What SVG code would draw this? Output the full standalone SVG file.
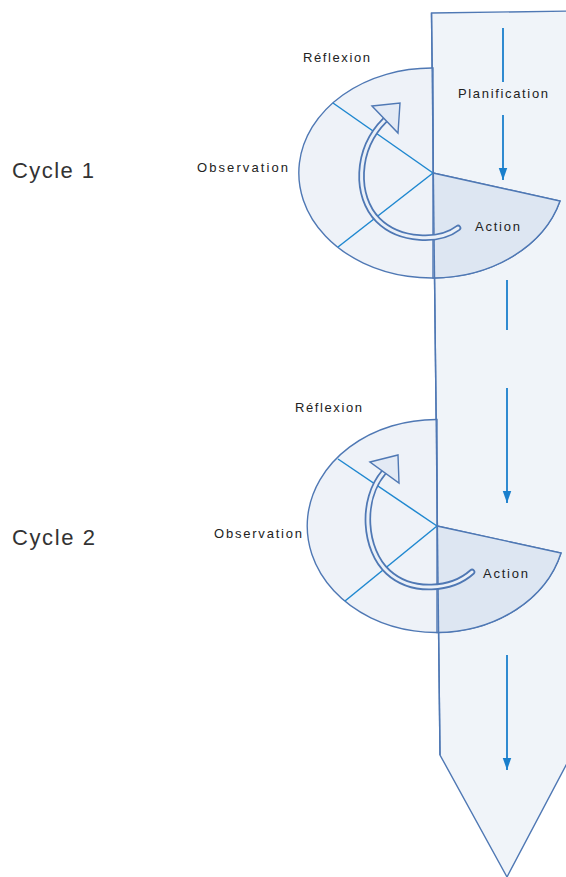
<svg xmlns="http://www.w3.org/2000/svg" width="566" height="877" viewBox="0 0 566 877">
<style>
.lbl{font-family:"Liberation Sans",Arial,sans-serif;font-size:13px;fill:#222}
.cyc{font-family:"Liberation Sans",Arial,sans-serif;font-size:22px;fill:#333}
.edge{fill:none;stroke:#4f78b4;stroke-width:1.4}
.pie{fill:#eef2f8;stroke:#4f78b4;stroke-width:1.4}
.act{fill:#dde6f2;stroke:#4f78b4;stroke-width:1.4}
.div{stroke:#1f88d0;stroke-width:1.5;fill:none}
.flow{stroke:#1a7fcc;stroke-width:1.8;fill:none}
.bandO{fill:none;stroke:#4f78b4;stroke-width:6.5;stroke-linecap:round}
.bandI{fill:none;stroke:#eaf0f8;stroke-width:3;stroke-linecap:round}
.head{fill:#e3eaf5;stroke:#4f78b4;stroke-width:1.4;stroke-linejoin:miter}
</style>
<defs>
<marker id="ah" markerUnits="userSpaceOnUse" markerWidth="12" markerHeight="18" refX="17" refY="6" orient="auto" viewBox="0 0 17 12">
<path d="M0,0 L17,6 L0,12 Z" fill="#1a7fcc"/>
</marker>
</defs>
<g id="main-arrow">
<path d="M431.5,13 L574,11 L574,750 L507,877 L440,755 Z" fill="#f0f4f9" stroke="#4f78b4" stroke-width="1.4"/>
</g>
<g id="cycle1">
<path class="pie" d="M433,68 A133,105 0 1 0 560,201 L433,173 Z"/>
<path class="act" d="M433,173 L560,201 A133,105 0 0 1 433,278 Z"/>
<line class="div" x1="433" y1="173" x2="333" y2="103"/>
<line class="div" x1="433" y1="173" x2="338" y2="247"/>
</g>
<g id="cycle2">
<path class="pie" d="M437,419.5 A129,106.5 0 1 0 561,553 L437,526 Z"/>
<path class="act" d="M437,526 L561,553 A129,106.5 0 0 1 437,632.5 Z"/>
<line class="div" x1="437" y1="526" x2="338" y2="459"/>
<line class="div" x1="437" y1="526" x2="345" y2="601"/>
</g>
<g id="main-arrow-edge">
<path class="edge" d="M431.5,13 L440,755"/>
</g>
<g id="connectors">
<line class="flow" x1="503" y1="28" x2="503" y2="82"/>
<line class="flow" x1="503" y1="115" x2="503" y2="180" marker-end="url(#ah)"/>
<line class="flow" x1="507" y1="280" x2="507" y2="330"/>
<line class="flow" x1="507" y1="388" x2="507" y2="503" marker-end="url(#ah)"/>
<line class="flow" x1="507" y1="655" x2="507" y2="770" marker-end="url(#ah)"/>
</g>
<g id="loop1">
<path class="bandO" d="M458,228 C440,242 400,242 378,220 C355,197 355,150 385,120"/>
<path class="bandI" d="M458,228 C440,242 400,242 378,220 C355,197 355,150 385,120"/>
<polygon class="head" points="372,106 400,103 398,133"/>
</g>
<g id="loop2">
<path class="bandO" d="M472,572 C452,590 412,594 388,572 C364,550 360,500 384,472"/>
<path class="bandI" d="M472,572 C452,590 412,594 388,572 C364,550 360,500 384,472"/>
<polygon class="head" points="370,462 398,455 399,483"/>
</g>
<g id="labels">
<text class="lbl" x="303" y="61.5" textLength="67" lengthAdjust="spacing">Réflexion</text>
<text class="lbl" x="458" y="97.5" textLength="90" lengthAdjust="spacing">Planification</text>
<text class="lbl" x="197" y="171.5" textLength="91" lengthAdjust="spacing">Observation</text>
<text class="lbl" x="475" y="230.5" textLength="45" lengthAdjust="spacing">Action</text>
<text class="lbl" x="295" y="411.5" textLength="67" lengthAdjust="spacing">Réflexion</text>
<text class="lbl" x="214" y="537.5" textLength="88" lengthAdjust="spacing">Observation</text>
<text class="lbl" x="483" y="577.5" textLength="45" lengthAdjust="spacing">Action</text>
<text class="cyc" x="12" y="178" textLength="82" lengthAdjust="spacing">Cycle 1</text>
<text class="cyc" x="12" y="545" textLength="83" lengthAdjust="spacing">Cycle 2</text>
</g>
</svg>
